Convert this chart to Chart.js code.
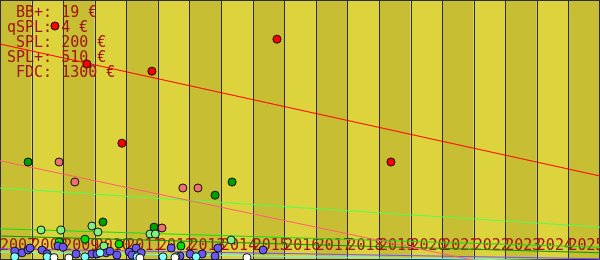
<!DOCTYPE html>
<html>
<head>
<meta charset="utf-8">
<script src="https://cdn.jsdelivr.net/npm/chart.js@4"></script>
<style>
  body { margin: 0; background: #ffffff; }
  #wrap { width: 600px; height: 260px; }
</style>
</head>
<body>
<div id="wrap"><canvas id="myChart" width="600" height="260"></canvas></div>
<script>
// year labels along the bottom, one per band
var years = [2007, 2008, 2009, 2010, 2011, 2012, 2013, 2014, 2015, 2016,
             2017, 2018, 2019, 2020, 2021, 2022, 2023, 2024, 2025];

// price list in the top left corner
var priceNames = ['BB+', 'qSPL', 'SPL', 'SPL+', 'FDC'];
var priceValues = [19, 4, 200, 510, 1300];

// sales: x = date (decimal year), y = price in €
var fdcX = [2008.74, 2009.75, 2011.81, 2010.86, 2015.77, 2019.38];
var fdcY = [585, 490, 472, 292, 552, 245];

var splPlusX = [2008.87, 2009.37, 2012.79, 2013.27, 2012.13];
var splPlusY = [245, 195, 180, 180, 80];

var splX = [2007.89, 2014.35, 2013.81, 2010.26, 2011.88];
var splY = [245, 195, 162, 95, 82];

var brightX = [2009.69, 2008.87, 2010.77, 2012.73];
var brightY = [52, 45, 40, 35];

var paleX = [2008.30, 2008.93, 2009.91, 2010.10, 2010.29, 2011.75, 2011.92, 2014.32];
var paleY = [75, 75, 85, 70, 35, 65, 65, 50];

var blueX = [2007.47, 2007.70, 2007.89, 2007.95, 2008.33, 2008.49, 2008.84, 2009.00,
             2009.41, 2009.91, 2010.07, 2010.36, 2010.48, 2010.70, 2011.09, 2011.18,
             2011.31, 2011.47, 2012.42, 2012.70, 2013.02, 2013.40, 2013.81, 2013.90, 2015.33];
var blueY = [22, 18, 25, 30, 25, 15, 35, 32,
             15, 15, 15, 18, 22, 12, 20, 12,
             30, 18, 30, 10, 15, 15, 10, 30, 25];

var cyanX = [2007.47, 2008.49, 2009.69, 2010.17, 2011.34, 2012.16, 2012.57, 2013.21];
var cyanY = [8, 8, 8, 18, 8, 8, 8, 8];

var whiteX = [2008.71, 2009.18, 2011.43, 2012.54, 2014.82];
var whiteY = [6, 5, 5, 6, 6];

// trend lines: value at 2007 and at 2026
var trendStart = [540, 248, 180, 78, 60, 28, 20];
var trendEnd = [210, -67, 82, 32, 18, 3, -3];
var trendColors = ['#ff0000', '#ff6070', '#50ff50', '#10e010', '#009a00', '#7050ff', '#60ffff'];

function pts(xs, ys) {
    return xs.map(function (x, i) { return { x: x, y: ys[i] }; });
}

function dots(data, fill) {
    return {
        type: 'scatter',
        data: data,
        backgroundColor: fill,
        borderColor: '#111111',
        borderWidth: 1,
        pointRadius: 4,
        order: 1
    };
}

var datasets = [];
trendStart.forEach(function (v, i) {
    datasets.push({
        type: 'line',
        data: [{ x: 2007, y: v }, { x: 2026, y: trendEnd[i] }],
        borderColor: trendColors[i],
        borderWidth: 1,
        pointRadius: 0,
        fill: false,
        order: 2
    });
});
datasets.push(dots(pts(whiteX, whiteY), '#ffffff'));
datasets.push(dots(pts(cyanX, cyanY), '#80ffff'));
datasets.push(dots(pts(blueX, blueY), '#6a58f6'));
datasets.push(dots(pts(paleX, paleY), '#80f080'));
datasets.push(dots(pts(brightX, brightY), '#00e000'));
datasets.push(dots(pts(splX, splY), '#00a000'));
datasets.push(dots(pts(splPlusX, splPlusY), '#f07070'));
datasets.push(dots(pts(fdcX, fdcY), '#ff0000'));

// bands, grid, year labels and the price list
var backdrop = {
    id: 'backdrop',
    beforeDatasetsDraw: function (chart) {
        var ctx = chart.ctx;
        var xs = chart.scales.x;
        var area = chart.chartArea;
        ctx.save();
        years.forEach(function (y, i) {
            var a = xs.getPixelForValue(y);
            var b = xs.getPixelForValue(y + 1);
            ctx.fillStyle = i % 2 === 0 ? '#c8be34' : '#ddd33d';
            ctx.fillRect(a, area.top, b - a, area.bottom - area.top);
        });
        ctx.strokeStyle = '#2c2c3c';
        ctx.lineWidth = 1;
        years.forEach(function (y, i) {
            if (i === 0) return;
            var a = Math.round(xs.getPixelForValue(y)) + 0.5;
            ctx.beginPath();
            ctx.moveTo(a, area.top);
            ctx.lineTo(a, area.bottom);
            ctx.stroke();
        });
        ctx.strokeRect(0.5, 0.5, chart.width - 1, chart.height - 1);

        ctx.fillStyle = '#a01414';
        ctx.textAlign = 'left';
        ctx.textBaseline = 'alphabetic';
        ctx.font = '15px "DejaVu Sans Mono", monospace';
        years.forEach(function (y) {
            ctx.fillText(String(y), xs.getPixelForValue(y), 250);
        });

        priceNames.forEach(function (n, i) {
            var line = (n + ':').padStart(5, ' ') + ' ' + priceValues[i] + ' €';
            ctx.fillText(line, 7, 17 + i * 15);
        });
        ctx.restore();
    }
};

var ctx = document.getElementById('myChart').getContext('2d');
var chart = new Chart(ctx, {
    type: 'scatter',
    data: { datasets: datasets },
    options: {
        responsive: false,
        animation: false,
        layout: { padding: 0, autoPadding: false },
        plugins: { legend: { display: false }, tooltip: { enabled: false } },
        scales: {
            x: { type: 'linear', min: 2007, max: 2026, display: false },
            y: { type: 'linear', min: 0, max: 650, display: false }
        }
    },
    plugins: [backdrop]
});
</script>
</body>
</html>
